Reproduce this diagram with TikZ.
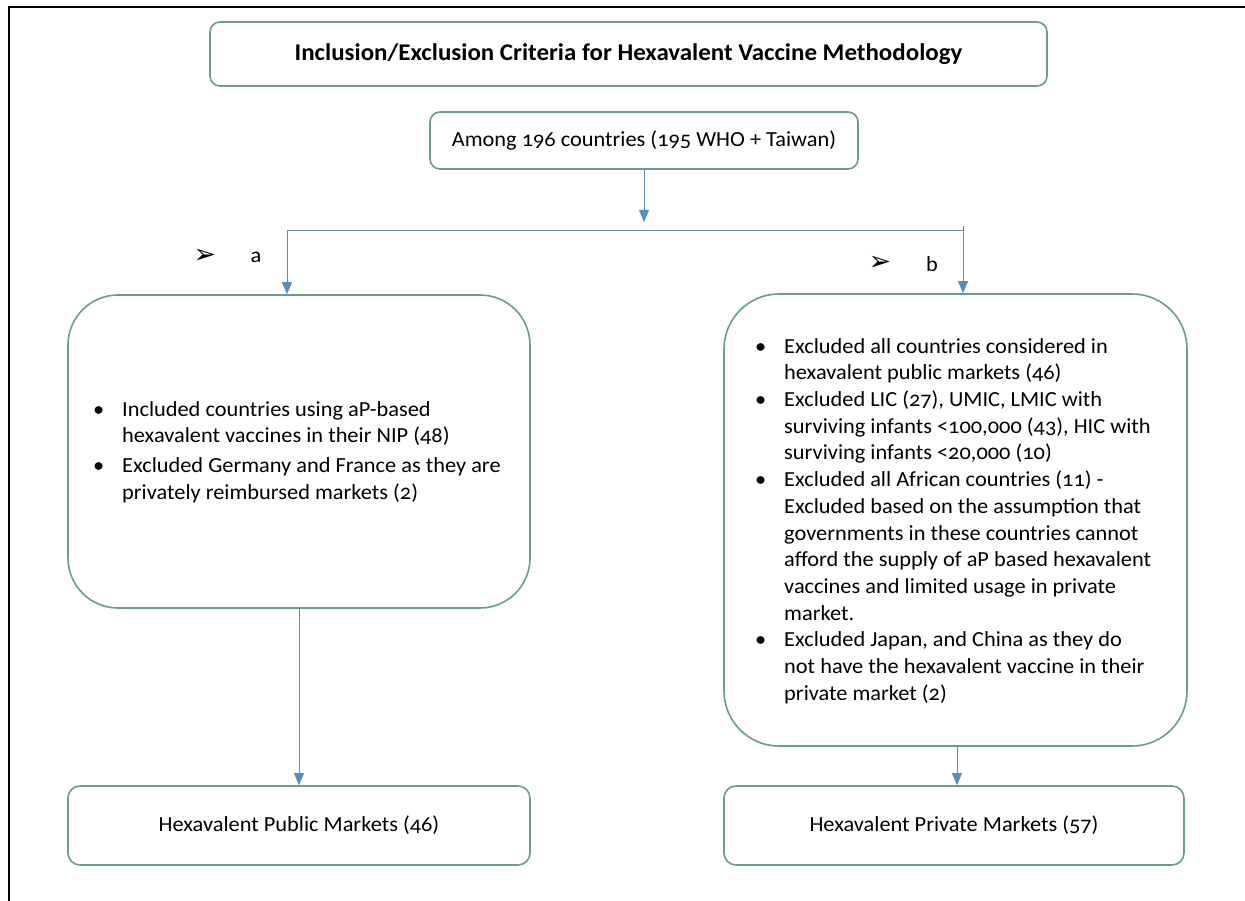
\documentclass[tikz,border=0pt]{standalone}
\usepackage{fontspec}
\setmainfont{Carlito}[Numbers=OldStyle, FakeStretch=1.04]
\newfontfamily\symfont{DejaVu Sans}
\usetikzlibrary{arrows.meta}
\definecolor{boxline}{RGB}{104,158,138}
\definecolor{arrowblue}{RGB}{88,142,190}
\tikzset{
  card/.style={draw=boxline, line width=1.6pt, fill=white, align=center, inner sep=0pt},
  flow/.style={draw=arrowblue, line width=0.9pt},
  flowarrow/.style={flow, -{Triangle[width=10pt,length=12pt]}},
  bodytext/.style={font=\fontsize{21.5}{26.7}\selectfont},
  listtext/.style={align=left, font=\fontsize{21.5}{26.7}\selectfont, inner sep=0pt},
  tag/.style={font=\fontsize{21.5}{24}\selectfont, inner sep=0pt},
  marker/.style={font=\symfont\fontsize{27}{30}\selectfont, inner sep=0pt}
}
\newcommand{\bitem}{\makebox[29pt][l]{\textbullet}}
\newcommand{\bcont}{\hspace*{29pt}}
\begin{document}
\begin{tikzpicture}[x=1pt,y=-1pt]
  \useasboundingbox (0,0) rectangle (1245,901);
  % page frame on top and left
  \draw[line width=2.6pt] (9,901) -- (9,7) -- (1245,7);

  % boxes
  \node[card, rounded corners=10pt, minimum width=837pt, minimum height=64pt,
        font=\bfseries\fontsize{24}{28}\selectfont] (title) at (628.5,54)
        {Inclusion/Exclusion Criteria for Hexavalent Vaccine Methodology};
  \node[card, rounded corners=10pt, minimum width=428pt, minimum height=57pt, bodytext] (among) at (644,140.5)
        {Among 196 countries (195 WHO + Taiwan)};
  \node[card, rounded corners=50pt, minimum width=462pt, minimum height=313pt] (pubcrit) at (299,451.5) {};
  \node[card, rounded corners=55pt, minimum width=463pt, minimum height=452pt] (privcrit) at (955.5,520) {};
  \node[card, rounded corners=12pt, minimum width=462pt, minimum height=79pt, bodytext] (pub) at (299,825.5)
        {Hexavalent Public Markets (46)};
  \node[card, rounded corners=12pt, minimum width=460pt, minimum height=79pt, bodytext] (priv) at (954,825.5)
        {Hexavalent Private Markets (57)};

  % criteria lists
  \node[listtext, anchor=west] (publist) at (93,452) {%
    \bitem Included countries using aP-based\\
    \bcont hexavalent vaccines in their NIP (48)\\[3pt]
    \bitem Excluded Germany and France as they are\\
    \bcont privately reimbursed markets (2)};
  \node[listtext, anchor=west] (privlist) at (755,521) {%
    \bitem Excluded all countries considered in\\
    \bcont hexavalent public markets (46)\\
    \bitem Excluded LIC (27), UMIC, LMIC with\\
    \bcont surviving infants <100,000 (43), HIC with\\
    \bcont surviving infants <20,000 (10)\\
    \bitem Excluded all African countries (11) -\\
    \bcont Excluded based on the assumption that\\
    \bcont governments in these countries cannot\\
    \bcont afford the supply of aP based hexavalent\\
    \bcont vaccines and limited usage in private\\
    \bcont market.\\
    \bitem Excluded Japan, and China as they do\\
    \bcont not have the hexavalent vaccine in their\\
    \bcont private market (2)};

  % branch labels
  \node[marker] (amark) at (205,256) {➢};
  \node[tag] (alabel) at (256,257) {a};
  \node[marker] (bmark) at (880,263) {➢};
  \node[tag] (blabel) at (932,264) {b};

  % connectors
  \coordinate (split) at (644,222);
  \coordinate (jl) at (287,230);
  \coordinate (jr) at (963,230);
  \coordinate (jrtop) at (963,226);
  \coordinate (privx) at (957,0);
  \draw[flowarrow] (among.south -| split) -- (split);
  \draw[flow] (jl) -- (jr);
  \draw[flowarrow] (jl) -- (jl |- pubcrit.north);
  \draw[flowarrow] (jrtop) -- (jr |- privcrit.north);
  \draw[flowarrow] (pubcrit.south) -- (pub.north);
  \draw[flowarrow] (privcrit.south -| privx) -- (privx |- priv.north);
\end{tikzpicture}
\end{document}
